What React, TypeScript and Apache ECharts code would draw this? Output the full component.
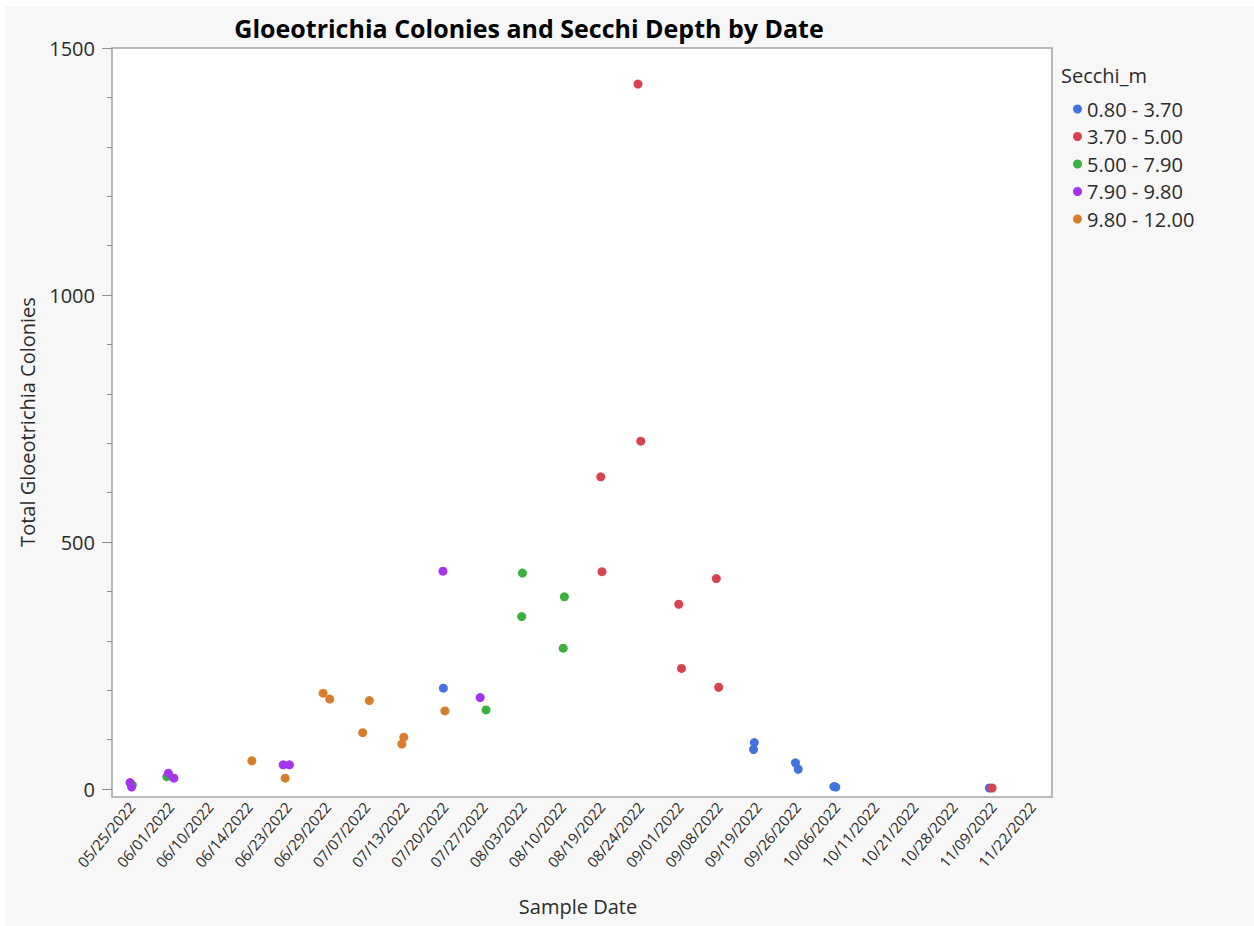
import React, { useEffect, useRef } from "react";
import * as echarts from "echarts";

const dates = [
  "05/25/2022", "06/01/2022", "06/10/2022", "06/14/2022", "06/23/2022", "06/29/2022",
  "07/07/2022", "07/13/2022", "07/20/2022", "07/27/2022", "08/03/2022", "08/10/2022",
  "08/19/2022", "08/24/2022", "09/01/2022", "09/08/2022", "09/19/2022", "09/26/2022",
  "10/06/2022", "10/11/2022", "10/21/2022", "10/28/2022", "11/09/2022", "11/22/2022",
];

const yTicks = [0, 500, 1000, 1500];

const groupNames = ["0.80 - 3.70", "3.70 - 5.00", "5.00 - 7.90", "7.90 - 9.80", "9.80 - 12.00"];
const groupColors = ["#4472E0", "#D8434F", "#3AB03E", "#A333EC", "#D77E2C"];

// Each point: date index, horizontal jitter (fraction of a category), colonies
const blueDateIdx = [8, 16, 16, 17, 17, 18, 18, 22];
const blueJitter = [-0.04, -0.1, -0.12, -0.05, 0.02, -0.07, -0.02, -0.1];
const blueValues = [204, 94, 80, 53, 40, 5, 4, 2];

const redDateIdx = [12, 12, 13, 13, 14, 14, 15, 15, 22];
const redJitter = [0.01, -0.02, -0.07, 0.0, -0.03, 0.04, -0.07, -0.01, -0.03];
const redValues = [440, 632, 1427, 704, 374, 244, 426, 206, 2];

const greenDateIdx = [0, 1, 9, 10, 10, 11, 11];
const greenJitter = [0.02, -0.1, 0.05, -0.02, -0.04, 0.05, 0.02];
const greenValues = [8, 25, 160, 437, 349, 389, 285];

const purpleDateIdx = [0, 0, 1, 1, 4, 4, 8, 9];
const purpleJitter = [-0.04, 0.0, -0.06, 0.08, -0.13, 0.03, -0.05, -0.1];
const purpleValues = [13, 4, 32, 22, 49, 49, 441, 185];

const orangeDateIdx = [3, 4, 5, 5, 6, 6, 7, 7, 8];
const orangeJitter = [0.07, -0.08, -0.11, 0.06, 0.07, -0.1, -0.05, -0.1, 0.0];
const orangeValues = [57, 22, 194, 182, 179, 114, 105, 91, 158];

const groups = [
  { idx: blueDateIdx, jit: blueJitter, val: blueValues },
  { idx: redDateIdx, jit: redJitter, val: redValues },
  { idx: greenDateIdx, jit: greenJitter, val: greenValues },
  { idx: purpleDateIdx, jit: purpleJitter, val: purpleValues },
  { idx: orangeDateIdx, jit: orangeJitter, val: orangeValues },
];

const FONT = "'Open Sans', 'Noto Sans', sans-serif";
const TEXT = "#2b2b2b";

export default function App() {
  const ref = useRef<HTMLDivElement>(null);

  useEffect(() => {
    document.body.style.margin = "0";
    if (!ref.current) return;
    const chart = echarts.init(ref.current, null, { renderer: "svg" });

    const plotLeft = 112;
    const plotTop = 48;
    const plotW = 940;
    const plotH = 749;
    const labelH = 741;

    chart.setOption({
      animation: false,
      backgroundColor: "#ffffff",
      textStyle: { fontFamily: FONT },
      graphic: [
        {
          type: "rect",
          z: -10,
          silent: true,
          shape: { x: 5, y: 6, width: 1249, height: 920 },
          style: { fill: "#f7f7f7" },
        },
        {
          type: "rect",
          z: -5,
          silent: true,
          shape: { x: plotLeft, y: plotTop, width: plotW, height: plotH },
          style: { fill: "#ffffff", stroke: "#a4a4a4", lineWidth: 1.5 },
        },
        {
          type: "text",
          x: 529,
          y: 28,
          style: {
            text: "Gloeotrichia Colonies and Secchi Depth by Date",
            fill: "#000",
            font: `bold 25px ${FONT}`,
            textAlign: "center",
            textVerticalAlign: "middle",
          },
        },
        {
          type: "text",
          x: 27,
          y: 422,
          rotation: Math.PI / 2,
          style: {
            text: "Total Gloeotrichia Colonies",
            fill: TEXT,
            font: `20px ${FONT}`,
            textAlign: "center",
            textVerticalAlign: "middle",
          },
        },
        {
          type: "text",
          x: 578,
          y: 906,
          style: {
            text: "Sample Date",
            fill: TEXT,
            font: `20px ${FONT}`,
            textAlign: "center",
            textVerticalAlign: "middle",
          },
        },
        {
          type: "text",
          x: 1061,
          y: 75,
          style: {
            text: "Secchi_m",
            fill: TEXT,
            font: `20px ${FONT}`,
            textAlign: "left",
            textVerticalAlign: "middle",
          },
        },
      ],
      legend: {
        data: groupNames,
        orient: "vertical",
        left: 1068,
        top: 94,
        icon: "circle",
        itemWidth: 9,
        itemHeight: 9,
        itemGap: 7.5,
        itemTextGap: 11,
        selectedMode: false,
        textStyle: { fontSize: 20, lineHeight: 20, color: TEXT, fontFamily: FONT },
      },
      grid: {
        left: plotLeft,
        top: plotTop,
        width: plotW,
        height: labelH,
        containLabel: false,
      },
      xAxis: [
        {
          type: "category",
          gridIndex: 0,
          data: dates,
          boundaryGap: true,
          offset: plotH - labelH,
          axisLine: { show: false, onZero: false },
          axisTick: { show: false },
          axisLabel: {
            rotate: 50,
            interval: 0,
            margin: 7,
            fontSize: 15,
            color: TEXT,
            fontFamily: FONT,
          },
          splitLine: { show: false },
        },
        {
          type: "value",
          gridIndex: 0,
          min: -0.5,
          max: dates.length - 0.5,
          show: false,
        },
      ],
      yAxis: {
        type: "value",
        min: yTicks[0],
        max: yTicks[yTicks.length - 1],
        interval: 500,
        axisLine: { show: false, onZero: false },
        axisTick: { show: true, length: 10, lineStyle: { color: "#8e8e8e" } },
        minorTick: { show: true, splitNumber: 5, length: 5, lineStyle: { color: "#8e8e8e" } },
        splitLine: { show: false },
        axisLabel: {
          fontSize: 20,
          color: TEXT,
          margin: 17,
          fontFamily: FONT,
          formatter: (v: number) => String(v),
        },
      },
      series: groups.map((g, gi) => ({
        name: groupNames[gi],
        type: "scatter",
        xAxisIndex: 1,
        yAxisIndex: 0,
        symbol: "circle",
        symbolSize: 9,
        clip: false,
        itemStyle: { color: groupColors[gi], opacity: 1 },
        emphasis: { disabled: true },
        data: g.val.map((v, i) => [g.idx[i] + g.jit[i], v]),
      })),
    });

    return () => chart.dispose();
  }, []);

  return <div ref={ref} style={{ width: 1254, height: 926 }} />;
}
